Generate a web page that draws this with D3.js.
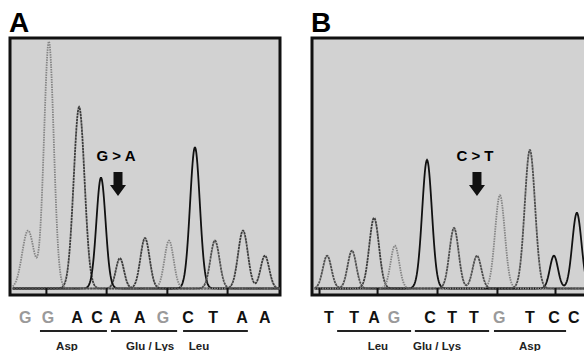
<!DOCTYPE html>
<html>
<head>
<meta charset="utf-8">
<script src="https://cdn.jsdelivr.net/npm/d3@7"></script>
<style>
  body { margin: 0; background: #fff; }
  svg { display: block; font-family: "Liberation Sans", Arial, sans-serif; }
</style>
</head>
<body>
<svg width="584" height="351"></svg>
<script>
// panel A (sense strand) peaks, in scan units
let aPeakPos    = [67, 144, 256, 337, 407, 500, 589, 685, 759, 863, 944];
let aPeakHeight = [23, 98, 72, 44, 12, 20, 19, 56, 19, 23, 13];
let aPeakBase   = ["G", "G", "A", "C", "A", "A", "G", "C", "T", "A", "A"];
let aPeakWidth  = [22, 18, 20, 17, 15, 17, 17, 18, 17, 18, 16];
let aCalls      = ["G", "G", "A", "C", "A", "A", "G", "C", "T", "A", "A"];
let aCallPos    = [56, 141, 248, 322, 389, 481, 567, 659, 752, 859, 944];
let aTicks      = [133, 356, 581, 804];
let aCodons     = ["Asp", "Glu / Lys", "Leu"];
let aCodonFrom  = [111, 374, 641];
let aCodonTo    = [359, 619, 881];
let aCodonMid   = [211, 519, 700];
let aMutation   = "G > A";
let aMutPos     = 400;

// panel B (antisense strand)
let bPeakPos    = [56, 148, 230, 307, 426, 526, 611, 696, 807, 896, 981];
let bPeakHeight = [13, 15, 28, 17, 51, 24, 13, 37, 55, 13, 30];
let bPeakBase   = ["T", "T", "A", "G", "C", "T", "T", "G", "T", "C", "C"];
let bPeakWidth  = [16, 16, 18, 16, 18, 17, 16, 18, 19, 15, 17];
let bCalls      = ["T", "T", "A", "G", "C", "T", "T", "G", "T", "C", "C"];
let bCallPos    = [63, 156, 230, 304, 437, 519, 600, 693, 807, 896, 970];
let bTicks      = [26, 241, 463, 685, 900];
let bCodons     = ["Leu", "Glu / Lys", "Asp"];
let bCodonFrom  = [93, 381, 674];
let bCodonTo    = [367, 656, 941];
let bCodonMid   = [244, 463, 807];
let bMutation   = "C > T";
let bMutPos     = 611;

let bases = ["A", "C", "G", "T"];
let traceColor = { A: "#3e3e3e", C: "#111", G: "#858585", T: "#4e4e4e" };
let callColor  = { A: "#111", C: "#111", G: "#9a9a9a", T: "#111" };

let svg = d3.select("svg");

let drawPanel = (p) => {
  let x = d3.scaleLinear().domain([0, 1000]).range([p.left, p.left + 270]);
  let y = d3.scaleLinear().domain([0, 100]).range([291, 39]);
  let g = svg.append("g");

  g.append("rect")
    .attr("x", p.left).attr("y", 38)
    .attr("width", p.boxW).attr("height", 257)
    .attr("fill", "#d2d2d2")
    .attr("stroke", "#111").attr("stroke-width", 3);

  g.append("text")
    .attr("x", p.left - 1).attr("y", 32)
    .attr("font-size", 28).attr("font-weight", "bold")
    .text(p.label);

  // one trace per base: sum of the peaks that belong to it
  let scans = d3.range(p.scanFrom, p.scanTo + 1, 2);
  let line = d3.line().x(d => x(d[0])).y(d => y(d[1]));
  bases.forEach(b => {
    let idx = p.base.map((v, i) => v === b ? i : -1).filter(i => i >= 0);
    if (!idx.length) return;
    let pts = scans.map(s => [s, 1 + d3.sum(idx, i =>
      p.height[i] * Math.exp(-Math.pow(s - p.pos[i], 2) / (2 * p.width[i] * p.width[i])))]);
    g.append("path")
      .datum(pts)
      .attr("d", line)
      .attr("fill", "none")
      .attr("stroke", traceColor[b])
      .attr("stroke-width", 1.8)
      .attr("stroke-dasharray", b === "C" ? null : (b === "G" ? "1.5,1" : "2.5,0.6"));
  });

  // base position ticks on the bottom edge
  let axis = d3.axisBottom(x).tickValues(p.ticks).tickSizeInner(-7).tickSizeOuter(0).tickFormat("");
  let ax = g.append("g").attr("transform", "translate(0,295)").call(axis);
  ax.select(".domain").remove();
  ax.selectAll("line").attr("stroke", "#111").attr("stroke-width", 2);

  // mutation note
  g.append("text")
    .attr("x", x(p.mutPos) - 2).attr("y", 161)
    .attr("text-anchor", "middle")
    .attr("font-size", 15).attr("font-weight", "bold")
    .text(p.mut);
  let ax0 = x(p.mutPos);
  g.append("path")
    .attr("d", `M${ax0 - 4.5},172 h9 v13 h3.5 l-8,11 l-8,-11 h3.5 z`)
    .attr("fill", "#111");

  // base calls
  g.selectAll(".call")
    .data(p.calls)
    .enter().append("text")
    .attr("x", (d, i) => x(p.callPos[i]))
    .attr("y", 323)
    .attr("text-anchor", "middle")
    .attr("font-size", 16).attr("font-weight", "bold")
    .attr("fill", d => callColor[d])
    .text(d => d);

  // codons
  g.selectAll(".codon")
    .data(p.codons)
    .enter().append("line")
    .attr("x1", (d, i) => x(p.codonFrom[i]))
    .attr("x2", (d, i) => x(p.codonTo[i]))
    .attr("y1", 331).attr("y2", 331)
    .attr("stroke", "#222").attr("stroke-width", 2);
  g.selectAll(".codonLabel")
    .data(p.codons)
    .enter().append("text")
    .attr("x", (d, i) => x(p.codonMid[i]))
    .attr("y", 350)
    .attr("text-anchor", "middle")
    .attr("font-size", 11.5).attr("font-weight", "bold")
    .attr("fill", "#222")
    .text(d => d);
};

drawPanel({ label: "A", left: 10, boxW: 270, scanFrom: 10, scanTo: 1000,
  pos: aPeakPos, height: aPeakHeight, base: aPeakBase, width: aPeakWidth,
  calls: aCalls, callPos: aCallPos, ticks: aTicks,
  codons: aCodons, codonFrom: aCodonFrom, codonTo: aCodonTo, codonMid: aCodonMid,
  mut: aMutation, mutPos: aMutPos });

drawPanel({ label: "B", left: 312, boxW: 290, scanFrom: 10, scanTo: 1080,
  pos: bPeakPos, height: bPeakHeight, base: bPeakBase, width: bPeakWidth,
  calls: bCalls, callPos: bCallPos, ticks: bTicks,
  codons: bCodons, codonFrom: bCodonFrom, codonTo: bCodonTo, codonMid: bCodonMid,
  mut: bMutation, mutPos: bMutPos });
</script>
</body>
</html>
